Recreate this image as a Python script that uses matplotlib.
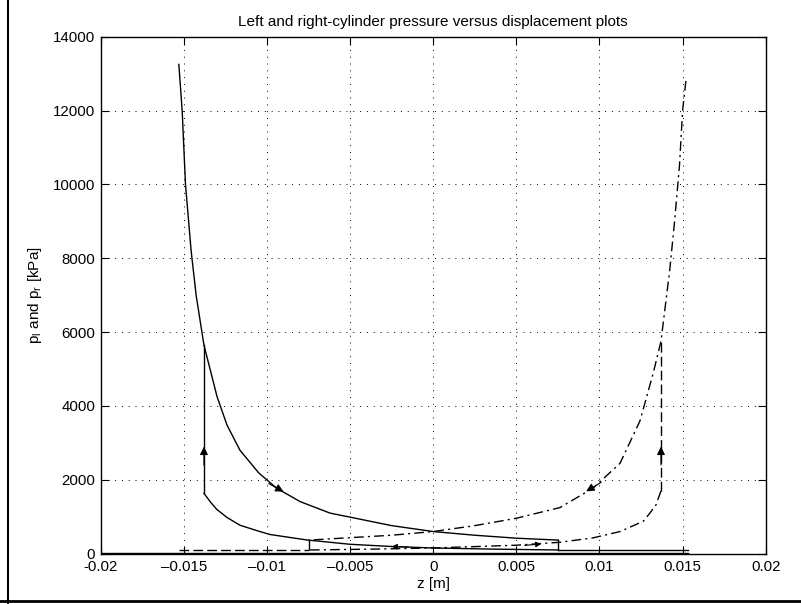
import matplotlib
matplotlib.use("Agg")
import matplotlib.pyplot as plt
from matplotlib.lines import Line2D

plt.rcParams['font.family'] = ['Liberation Sans', 'DejaVu Sans']
plt.rcParams['mathtext.default'] = 'regular'

# ---------------- data ----------------
title = "Left and right-cylinder pressure versus displacement plots"
xlabel = "z [m]"
ylabel = "$p_l$ and $p_r$ [kPa]"

xticks = [-0.02, -0.015, -0.01, -0.005, 0, 0.005, 0.01, 0.015, 0.02]
xtick_labels = ["-0.02", "\u20130.015", "\u20130.01", "\u20130.005", "0", "0.005", "0.01", "0.015", "0.02"]
yticks = [0, 2000, 4000, 6000, 8000, 10000, 12000, 14000]
ytick_labels = ["0", "2000", "4000", "6000", "8000", "10000", "12000", "14000"]

# left cylinder (solid)
z_left_upper = [-0.0153, -0.0151, -0.0149, -0.01456, -0.01426, -0.01379, -0.0130,
                -0.0124, -0.01162, -0.0105, -0.00941, -0.0080, -0.00621, -0.0050,
                -0.0025, 0.0, 0.0025, 0.005, 0.00753]
p_left_upper = [13250, 12000, 10000, 8200, 7000, 5650, 4250,
                3480, 2800, 2190, 1770, 1410, 1100, 990,
                760, 600, 500, 420, 368]
z_left_vert = [-0.01379, -0.01379]
p_left_vert = [1635, 5650]
z_left_lower = [-0.01379, -0.0134, -0.01302, -0.0124, -0.01162, -0.0105, -0.00982,
                -0.0076, -0.005, -0.0025, 0.0, 0.0035, 0.00753]
p_left_lower = [1635, 1400, 1200, 980, 770, 610, 520,
                372, 255, 195, 155, 125, 100]
z_left_drop = [0.00753, 0.00753]
p_left_drop = [368, 100]
z_left_atm = [0.00753, 0.0153]
p_left_atm = [100, 100]

# right cylinder (dash-dot)
z_right_upper = [0.0152, 0.0150, 0.01482, 0.01452, 0.01422, 0.0137, 0.01324,
                 0.01244, 0.01124, 0.00963, 0.00763, 0.005, 0.0025, 0.0, -0.0025, -0.0075]
p_right_upper = [12800, 12000, 10550, 9000, 7650, 5750, 4900,
                 3600, 2450, 1780, 1250, 960, 760, 600, 500, 368]
z_right_vert = [0.0137, 0.0137]
p_right_vert = [1700, 5750]
z_right_lower = [0.0137, 0.0134, 0.0130, 0.01264, 0.01124, 0.00963, 0.00763,
                 0.005, 0.0, -0.0035, -0.0075]
p_right_lower = [1700, 1320, 1080, 880, 600, 430, 310,
                 230, 155, 125, 100]
z_right_drop = [-0.0075, -0.0075]
p_right_drop = [368, 100]
z_right_atm = [-0.0153, -0.0075]
p_right_atm = [100, 100]

# line along the bottom
z_base = [-0.02, 0.0153]
p_base = [30, 30]

# arrows: (tail z, tail p, tip z, tip p)
arrows = [
    (-0.00990, 1900, -0.00900, 1680, 12),
    (-0.01379, 2400, -0.01379, 2900, 12),
    (0.01010, 1930, 0.00920, 1690, 12),
    (0.0137, 2400, 0.0137, 2900, 12),
    (-0.0015, 180, -0.0025, 195, 8),
    (0.0055, 225, 0.0065, 265, 8),
]

# ---------------- figure ----------------
fig = plt.figure(figsize=(8.01, 6.04), dpi=100)
ax = fig.add_axes([100.7 / 801, 1 - 553.7 / 604, 665 / 801, 517 / 604])

lw = 1.0
dd = (0, (7, 3, 1.5, 3))
dash = (0, (7, 3))

for zz, pp in [(z_left_upper, p_left_upper), (z_left_vert, p_left_vert),
               (z_left_lower, p_left_lower), (z_left_drop, p_left_drop),
               (z_left_atm, p_left_atm)]:
    ax.plot(zz, pp, color='k', lw=lw, ls='-')

for zz, pp in [(z_right_upper, p_right_upper), (z_right_lower, p_right_lower),
               (z_right_drop, p_right_drop)]:
    ax.plot(zz, pp, color='k', lw=lw, ls=dd)
ax.plot(z_right_vert, p_right_vert, color='k', lw=lw, ls=dash)
ax.plot(z_right_atm, p_right_atm, color='k', lw=lw, ls=dash)

ax.plot(z_base, p_base, color='k', lw=1.0, ls='-')

for tz, tp, hz, hp, ms in arrows:
    ax.annotate('', xy=(hz, hp), xytext=(tz, tp),
                arrowprops=dict(arrowstyle='-|>', color='k', lw=0.8,
                                mutation_scale=ms, shrinkA=0, shrinkB=0))

ax.set_xlim(-0.02, 0.02)
ax.set_ylim(0, 14000)
ax.set_xticks(xticks)
ax.set_xticklabels(xtick_labels)
ax.set_yticks(yticks)
ax.set_yticklabels(ytick_labels)
ax.tick_params(direction='in', length=6, width=0.8, top=True, right=True,
               labelsize=10.8)
ax.tick_params(axis='x', pad=4.5)
ax.tick_params(axis='y', pad=4)
ax.grid(True, color='k', ls=(0, (1, 6)), lw=0.7)
for s in ax.spines.values():
    s.set_linewidth(1.0)

ax.set_title(title, fontsize=11, pad=8)
ax.set_xlabel(xlabel, fontsize=11, labelpad=2)
ax.set_ylabel(ylabel, fontsize=11, labelpad=6)

# scanned page borders
fig.add_artist(Line2D([8 / 801, 8 / 801], [0, 1], transform=fig.transFigure, color='k', lw=1.5))
fig.add_artist(Line2D([0, 1], [1 - 601 / 604, 1 - 601 / 604], transform=fig.transFigure, color='k', lw=2))

fig.savefig("out.png", dpi=100)
